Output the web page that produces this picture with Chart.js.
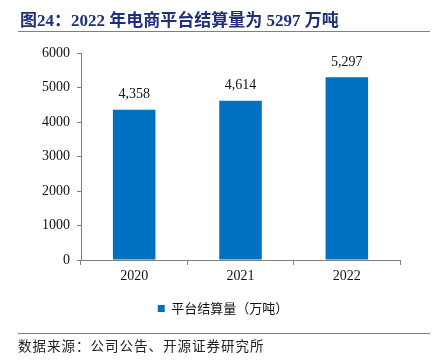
<!DOCTYPE html>
<html><head><meta charset="utf-8">
<script src="https://cdn.jsdelivr.net/npm/chart.js@4"></script>
<style>
html,body{margin:0;padding:0;background:#fff;}
#wrap{position:relative;width:437px;height:363px;overflow:hidden;}
#title{position:absolute;left:20px;top:6px;font:bold 17px "Liberation Serif","Noto Sans CJK SC",serif;color:#1f2f78;white-space:nowrap;}
#tline{position:absolute;left:18px;top:31px;width:412px;height:0;border-top:1.5px solid #7f7f7f;}
#bline{position:absolute;left:18px;top:333px;width:412px;height:0;border-top:1.5px solid #7f7f7f;}
#src{position:absolute;left:18px;top:335px;font:13.5px "Noto Sans CJK SC",sans-serif;letter-spacing:1px;color:#222;white-space:nowrap;}
canvas{position:absolute;left:0;top:0;}
</style></head><body>
<div id="wrap">
<canvas id="c" width="437" height="363"></canvas>
<div id="title">图24：2022 年电商平台结算量为 5297 万吨</div>
<div id="tline"></div>
<div id="bline"></div>
<div id="src">数据来源：公司公告、开源证券研究所</div>
</div>
<script>
const categories = ['2020', '2021', '2022'];
const settlementVolume = [4358, 4614, 5297];
const seriesName = '平台结算量（万吨）';
const yTicks = [0, 1000, 2000, 3000, 4000, 5000, 6000];

const valueLabels = {
  id: 'valueLabels',
  afterDatasetsDraw(chart) {
    const ctx = chart.ctx;
    const meta = chart.getDatasetMeta(0);
    ctx.save();
    ctx.font = '14px "Liberation Serif", serif';
    ctx.fillStyle = '#111';
    ctx.textAlign = 'center';
    ctx.textBaseline = 'middle';
    meta.data.forEach((bar, i) => {
      const v = chart.data.datasets[0].data[i];
      ctx.fillText(v.toLocaleString('en-US'), bar.x, bar.y - 15);
    });
    ctx.restore();
  }
};

const legendShift = {
  id: 'legendShift',
  afterLayout(chart) {
    const lg = chart.legend;
    if (lg) { lg.left += 23; lg.right += 23; }
  }
};

new Chart(document.getElementById('c'), {
  type: 'bar',
  data: {
    labels: categories,
    datasets: [{
      label: seriesName,
      data: settlementVolume,
      backgroundColor: '#0070C0',
      borderWidth: 0,
      categoryPercentage: 1,
      barPercentage: 0.4
    }]
  },
  options: {
    responsive: false,
    animation: false,
    devicePixelRatio: 1,
    layout: { padding: { left: 0, right: 37, top: 53, bottom: 38 } },
    plugins: {
      legend: {
        position: 'bottom',
        labels: {
          boxWidth: 7, boxHeight: 7, padding: 10,
          color: '#111',
          font: { size: 13, family: '"Noto Sans CJK SC", sans-serif' }
        }
      },
      tooltip: { enabled: false },
      title: { display: false }
    },
    scales: {
      x: {
        grid: { display: true, drawOnChartArea: false, offset: true, tickLength: 5, color: '#7f7f7f' },
        border: { display: true, color: '#7f7f7f', width: 1 },
        ticks: { color: '#111', padding: 3, font: { size: 14, family: '"Liberation Serif", serif' } },
        afterFit(s) { s.height = 32; }
      },
      y: {
        min: 0, max: 6000,
        afterBuildTicks(s) { s.ticks = yTicks.map(v => ({ value: v })); },
        grid: { display: true, drawOnChartArea: false, tickLength: 4, color: '#7f7f7f' },
        border: { display: true, color: '#7f7f7f', width: 1 },
        ticks: { color: '#111', padding: 7, font: { size: 14, family: '"Liberation Serif", serif' }, callback: v => String(v) },
        afterFit(s) { s.width = 81; }
      }
    }
  },
  plugins: [valueLabels, legendShift]
});
</script>
</body></html>
